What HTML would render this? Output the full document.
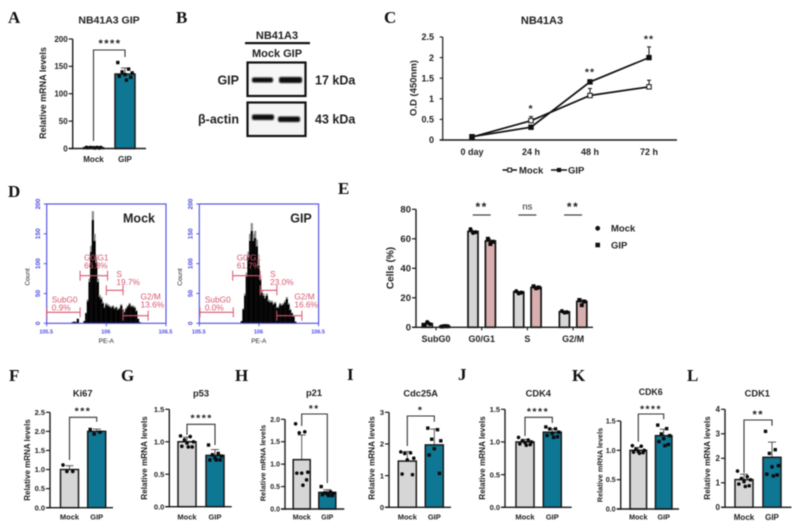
<!DOCTYPE html>
<html lang="en">
<head>
<meta charset="utf-8">
<title>NB41A3 GIP figure</title>
<style>
html,body{margin:0;padding:0;background:#fff;}
#fig{display:block;width:792px;height:528px;filter:blur(0.5px);font-family:"Liberation Sans",sans-serif;}
.let{font-family:"Liberation Serif",serif;font-weight:bold;font-size:17px;fill:#111;}
</style>
</head>
<body>
<svg id="fig" xmlns="http://www.w3.org/2000/svg" width="792" height="528" viewBox="0 0 792 528">
<defs><filter id="soft" x="-20%" y="-100%" width="140%" height="300%"><feGaussianBlur stdDeviation="0.7"/></filter></defs>
<rect width="792" height="528" fill="#fff"/>
<text class="let" x="8" y="23">A</text>
<text class="let" x="176" y="23">B</text>
<text class="let" x="384" y="23">C</text>
<text class="let" x="8" y="197">D</text>
<text class="let" x="338" y="194">E</text>
<text class="let" x="9" y="381">F</text>
<text class="let" x="121" y="381">G</text>
<text class="let" x="235" y="381">H</text>
<text class="let" x="347" y="380">I</text>
<text class="let" x="458" y="380">J</text>
<text class="let" x="572" y="381">K</text>
<text class="let" x="687" y="381">L</text>

<g font-weight="bold" fill="#222">
  <text x="277" y="39" font-size="11" text-anchor="middle">NB41A3</text>
  <rect x="245" y="42" width="65" height="2.2" fill="#111"/>
  <text x="277" y="57" font-size="11" text-anchor="middle">Mock GIP</text>
  <rect x="247.5" y="62.5" width="58" height="33.5" fill="#f7f7f7" stroke="#111" stroke-width="2.2"/>
  <rect x="247.5" y="102.5" width="58" height="33.5" fill="#f4f4f4" stroke="#111" stroke-width="2.2"/>
  <rect x="252" y="77.5" width="21" height="5" rx="2" fill="#111" filter="url(#soft)"/>
  <rect x="279" y="77" width="23" height="6" rx="2" fill="#0a0a0a" filter="url(#soft)"/>
  <rect x="252" y="114.5" width="22" height="5.5" rx="2" fill="#0a0a0a" filter="url(#soft)"/>
  <rect x="278" y="116.5" width="22" height="5.5" rx="2" fill="#0a0a0a" filter="url(#soft)"/>
  <text x="239" y="84.5" font-size="12.5" text-anchor="end">GIP</text>
  <text x="239" y="123.5" font-size="12.5" text-anchor="end">β-actin</text>
  <text x="315" y="84.5" font-size="12.5">17 kDa</text>
  <text x="315" y="123.5" font-size="12.5">43 kDa</text>
</g>
<g id="charts"></g>
</svg>
<script>
/* Panel A */
const aMeans = [1.5, 136];
const aErrors = [0.5, 11];
const aMockPoints = [2, 2, 2, 2, 1.5, 1.5, 1, 1];
const aGipPoints = [157, 145, 140, 138, 135, 132, 130, 125];
const aTicks = ['0', '50', '100', '150', '200'];
/* Panel F Ki67 */
const kiMeans = [1.0, 2.0];
const kiErrors = [0.1, 0.06];
const kiMockPoints = [1.12, 0.95, 0.95];
const kiGipPoints = [2.05, 1.98, 1.93];
const kiTicks = ['0.0', '0.5', '1.0', '1.5', '2.0', '2.5'];
/* Panel G p53 */
const p53Means = [1.0, 0.79];
const p53Errors = [0.07, 0.09];
const p53MockPoints = [1.09, 1.08, 1.03, 1.0, 0.98, 0.93, 0.92, 0.92];
const p53GipPoints = [0.95, 0.82, 0.8, 0.78, 0.75, 0.72, 0.72, 0.72];
const p53Ticks = ['0.0', '0.5', '1.0', '1.5'];
/* Panel H p21 */
const p21Means = [1.1, 0.37];
const p21Errors = [0.55, 0.06];
const p21MockPoints = [1.9, 1.72, 1.7, 0.82, 0.8, 0.8, 0.65, 0.53];
const p21GipPoints = [0.5, 0.38, 0.36, 0.35, 0.34, 0.32, 0.3, 0.3];
const p21Ticks = ['0.0', '0.5', '1.0', '1.5', '2.0'];
/* Panel I Cdc25A */
const cdcMeans = [1.46, 1.97];
const cdcErrors = [0.3, 0.5];
const cdcMockPoints = [1.75, 1.72, 1.7, 1.55, 1.5, 1.05, 1.03];
const cdcGipPoints = [2.5, 2.45, 2.15, 2.1, 1.85, 1.65, 1.07];
const cdcTicks = ['0', '1', '2', '3'];
/* Panel J CDK4 */
const cdk4Means = [1.0, 1.15];
const cdk4Errors = [0.04, 0.05];
const cdk4MockPoints = [1.07, 1.03, 1.02, 1.0, 0.99, 0.97, 0.96, 0.95];
const cdk4GipPoints = [1.23, 1.2, 1.2, 1.15, 1.13, 1.1, 1.08, 1.07];
const cdk4Ticks = ['0.0', '0.5', '1.0', '1.5'];
/* Panel K CDK6 */
const cdk6Means = [1.0, 1.25];
const cdk6Errors = [0.05, 0.11];
const cdk6MockPoints = [1.08, 1.07, 1.02, 1.0, 0.98, 0.97, 0.96, 0.95];
const cdk6GipPoints = [1.43, 1.37, 1.28, 1.25, 1.2, 1.15, 1.1, 1.08];
const cdk6Ticks = ['0.0', '0.5', '1.0', '1.5'];
/* Panel L CDK1 */
const cdk1Means = [1.13, 2.04];
const cdk1Errors = [0.22, 0.62];
const cdk1MockPoints = [1.48, 1.25, 1.18, 1.12, 1.05, 0.95, 0.88, 0.85];
const cdk1GipPoints = [3.1, 2.35, 2.2, 1.7, 1.65, 1.35, 1.32, 1.28];
const cdk1Ticks = ['0', '1', '2', '3', '4'];
/* Panel C growth curve */
const growthCategories = ['0 day', '24 h', '48 h', '72 h'];
const growthMock = [0.07, 0.47, 1.08, 1.29];
const growthGip = [0.08, 0.31, 1.41, 2.0];
const growthMockErr = [0.02, 0.1, 0.17, 0.16];
const growthGipErr = [0.02, 0.05, 0.05, 0.26];
const growthTicks = ['0', '0.5', '1', '1.5', '2', '2.5'];
const growthStars = ['', '*', '**', '**'];
/* Panel D histograms */
const mockHist = [4,18,40,75,130,188,150,110,75,48,44,36,28,34,32,30,28,30,26,28,24,26,32,24,20,26,30,34,30,30,28,22,8,2];
const gipHist = [4,25,50,85,120,150,168,150,155,140,105,80,55,50,45,50,40,38,38,34,36,28,28,34,32,34,38,44,34,24,18,12,3];
const mockBinStart = 5.808;
const gipBinStart = 5.847;
const binWidth = 0.014;
const mockDebris = [2, 3, 2, 8];
const debrisStart = 5.71;
const countTicks = ['0', '50', '100', '150', '200'];
const mockGates = [['SubG0', '0.9%', 5.5, 5.78], ['G0/G1', '66.8%', 5.78, 6.01], ['S', '19.7%', 6.0, 6.14], ['G2/M', '13.6%', 6.14, 6.35]];
const gipGates = [['SubG0', '0.0%', 5.505, 5.785], ['G0/G1', '61.7%', 5.78, 6.01], ['S', '23.0%', 6.01, 6.15], ['G2/M', '16.6%', 6.15, 6.36]];
/* Panel E cell cycle */
const phaseCategories = ['SubG0', 'G0/G1', 'S', 'G2/M'];
const phaseMock = [2.5, 65, 24, 10.5];
const phaseGip = [0.7, 58.5, 27, 17.5];
const phaseMockPoints = [[1.5, 3.5, 2.2], [66.5, 64, 64.5], [24.5, 23, 23.5], [11, 10, 10.2]];
const phaseGipPoints = [[0.5, 0.8, 0.7], [60, 56.5, 58], [27.8, 26.5, 27], [18.5, 15, 17.5]];
const phaseErrors = [[1, 1.2, 0.6, 0.5], [0.3, 1.8, 0.7, 1.9]];
const phaseSig = ['', '**', 'ns', '**'];
const phaseTicks = ['0', '20', '40', '60', '80'];

const NS = 'http://www.w3.org/2000/svg';
const root = document.getElementById('charts');
function add(parent, tag, attrs, text) {
  const el = document.createElementNS(NS, tag);
  for (const k in attrs) el.setAttribute(k, attrs[k]);
  if (text !== undefined) el.textContent = text;
  parent.appendChild(el);
  return el;
}
function txt(parent, x, y, s, size, anchor, extra) {
  const a = Object.assign({x: x, y: y + size * 0.35, 'font-size': size, 'text-anchor': anchor || 'middle', 'font-weight': 'bold', fill: '#222'}, extra || {});
  return add(parent, 'text', a, s);
}
function vtxt(parent, x, y, s, size, extra) {
  const a = Object.assign({transform: 'rotate(-90 ' + x + ' ' + y + ')'}, extra || {});
  return txt(parent, x, y, s, size, 'middle', a);
}
function line(parent, x1, y1, x2, y2, stroke, w) {
  return add(parent, 'line', {x1: x1, y1: y1, x2: x2, y2: y2, stroke: stroke, 'stroke-width': w});
}
function swarmOffset(i, spread) {
  const pattern = [-1, 0.5, -0.4, 1, 0, -0.8, 0.8, 0.2];
  return pattern[i % pattern.length] * spread;
}
function marker(parent, kind, x, y, r, fill, stroke) {
  if (kind === 'circle') return add(parent, 'circle', {cx: x, cy: y, r: r, fill: fill, stroke: stroke || 'none'});
  return add(parent, 'rect', {x: x - r, y: y - r, width: 2 * r, height: 2 * r, fill: fill, stroke: stroke || 'none'});
}

/* Two-bar charts */
const barPanels = [
  {id: 'a', title: 'NB41A3 GIP', means: aMeans, errs: aErrors, mock: aMockPoints, gip: aGipPoints, ticks: aTicks, max: 200,
   ax: 72.7, y0: 148.5, yT: 39, xEnd: 146, cx: [93.5, 125], bw: 20, tx: 109, ty: 20, ts: 10.5,
   brTop: 50, brL: 141, brR: 57, sig: '****', sx: 110, sy: 43, lx: 43, ly: 93, ls: 9, fs: 8, xly: 159},
  {id: 'ki67', title: 'Ki67', means: kiMeans, errs: kiErrors, mock: kiMockPoints, gip: kiGipPoints, ticks: kiTicks, max: 2.5,
   ax: 50, y0: 507.7, yT: 412.3, xEnd: 113, cx: [69.5, 96.7], bw: 18, tx: 82.7, ty: 393, ts: 9.3,
   brTop: 417.3, brL: 460, brR: 421.7, sig: '***', sx: 83, sy: 411, lx: 27, ly: 460, ls: 8, fs: 7.5, xly: 517},
  {id: 'p53', title: 'p53', means: p53Means, errs: p53Errors, mock: p53MockPoints, gip: p53GipPoints, ticks: p53Ticks, max: 1.5,
   ax: 169.3, y0: 506.7, yT: 409.3, xEnd: 231.7, cx: [187, 215], bw: 18, tx: 201, ty: 393, ts: 9.3,
   brTop: 424.3, brL: 435, brR: 445, sig: '****', sx: 201.7, sy: 418, lx: 144.3, ly: 458, ls: 8.2, fs: 7.5, xly: 517},
  {id: 'p21', title: 'p21', means: p21Means, errs: p21Errors, mock: p21MockPoints, gip: p21GipPoints, ticks: p21Ticks, max: 2,
   ax: 285, y0: 509, yT: 419.3, xEnd: 344.3, cx: [301.7, 327.3], bw: 17, tx: 314, ty: 392.5, ts: 9.3,
   brTop: 414, brL: 426, brR: 483, sig: '**', sx: 314.3, sy: 408.5, lx: 262.7, ly: 463, ls: 7.5, fs: 7, xly: 517},
  {id: 'cdc25a', title: 'Cdc25A', means: cdcMeans, errs: cdcErrors, mock: cdcMockPoints, gip: cdcGipPoints, ticks: cdcTicks, max: 3,
   ax: 389, y0: 507.3, yT: 412.3, xEnd: 451, cx: [407.3, 434.3], bw: 18, tx: 420.7, ty: 393, ts: 9.3,
   brTop: 416, brL: 446, brR: 421.7, sig: '*', sx: 420.7, sy: 410, lx: 371.7, ly: 458, ls: 8.2, fs: 7.5, xly: 517},
  {id: 'cdk4', title: 'CDK4', means: cdk4Means, errs: cdk4Errors, mock: cdk4MockPoints, gip: cdk4GipPoints, ticks: cdk4Ticks, max: 1.5,
   ax: 505, y0: 507.3, yT: 409.3, xEnd: 571.7, cx: [525, 552.3], bw: 18, tx: 538.3, ty: 393, ts: 9.3,
   brTop: 417.3, brL: 436, brR: 423, sig: '****', sx: 538, sy: 411.5, lx: 482.3, ly: 458, ls: 8.2, fs: 7.5, xly: 517},
  {id: 'cdk6', title: 'CDK6', means: cdk6Means, errs: cdk6Errors, mock: cdk6MockPoints, gip: cdk6GipPoints, ticks: cdk6Ticks, max: 1.5,
   ax: 620.7, y0: 509, yT: 421, xEnd: 679, cx: [638.3, 663.7], bw: 16.5, tx: 650.7, ty: 392, ts: 8.8,
   brTop: 414, brL: 441.7, brR: 419.3, sig: '****', sx: 651, sy: 409, lx: 600, ly: 465, ls: 7.3, fs: 7.2, xly: 517},
  {id: 'cdk1', title: 'CDK1', means: cdk1Means, errs: cdk1Errors, mock: cdk1MockPoints, gip: cdk1GipPoints, ticks: cdk1Ticks, max: 4,
   ax: 725, y0: 507.3, yT: 409.3, xEnd: 791.5, cx: [744, 772], bw: 18, tx: 757.3, ty: 393, ts: 9.3,
   brTop: 420, brL: 473, brR: 425.7, sig: '**', sx: 758.3, sy: 414, lx: 707.3, ly: 458, ls: 8.2, fs: 8, xly: 517}
];

barPanels.forEach(function (p) {
  const g = add(root, 'g', {});
  
  
  const y = function (v) { return p.y0 - v / p.max * (p.y0 - p.yT); };
  const fills = ['#d6d6d6', '#0e7794'];
  const names = ['Mock', 'GIP'];
  const t = txt(g, p.tx, p.ty, p.title, p.ts);
  
  
  p.means.forEach(function (m, i) {
    const err = line(g, p.cx[i], y(m - p.errs[i]), p.cx[i], y(m + p.errs[i]), '#444', 0.9);
    
    
    const cap = line(g, p.cx[i] - 4, y(m + p.errs[i]), p.cx[i] + 4, y(m + p.errs[i]), '#444', 0.9);
    
    
    const bar = add(g, 'rect', {x: p.cx[i] - p.bw / 2, y: y(m), width: p.bw, height: p.y0 - y(m), fill: fills[i], stroke: '#1a1a1a', 'stroke-width': 1.5});
    
    
    const lab = txt(g, p.cx[i], p.xly, names[i], p.fs);
    
    
  });
  [p.mock, p.gip].forEach(function (pts, s) {
    pts.forEach(function (v, i) {
      const mk = marker(g, s === 0 ? 'circle' : 'square', p.cx[s] + swarmOffset(i, p.bw * 0.36), y(v), s === 0 ? 1.8 : 1.7, '#0a0a0a');
      
      
    });
  });
  const yAxis = line(g, p.ax, p.yT, p.ax, p.y0 + 0.6, '#1a1a1a', 1.4);
  
  
  const xAxis = line(g, p.ax - 4, p.y0, p.xEnd, p.y0, '#1a1a1a', 1.4);
  
  
  p.ticks.forEach(function (s) {
    const yy = y(parseFloat(s));
    const tk = line(g, p.ax - 4, yy, p.ax, yy, '#1a1a1a', 1.2);
    
    
    const tl = txt(g, p.ax - 5, yy, s, p.fs, 'end');
    
    
  });
  const yl = vtxt(g, p.lx, p.ly, 'Relative mRNA levels', p.ls);
  
  
  const br = add(g, 'polyline', {points: p.cx[0] + ',' + p.brL + ' ' + p.cx[0] + ',' + p.brTop + ' ' + p.cx[1] + ',' + p.brTop + ' ' + p.cx[1] + ',' + p.brR, fill: 'none', stroke: '#333', 'stroke-width': 1.1});
  
  
  const st = txt(g, p.sx, p.sy, p.sig, p.fs + 3, 'middle', {'letter-spacing': 1.5});
  
  
});

/* Panel C */
(function () {
  const g = add(root, 'g', {});
  
  
  const ax = 442.7, y0 = 140, yT = 37, cxStart = 472, cxStep = 59;
  const y = function (v) { return y0 - v / 2.5 * (y0 - yT); };
  const x = function (i) { return cxStart + i * cxStep; };
  const title = txt(g, 542, 20, 'NB41A3', 11);
  
  
  const yAxis = line(g, ax, yT, ax, y0, '#1a1a1a', 1.2);
  
  
  const xAxis = line(g, ax - 3, y0, 677, y0, '#1a1a1a', 1.5);
  
  
  growthTicks.forEach(function (s) {
    const yy = y(parseFloat(s));
    const tk = line(g, ax - 3, yy, ax, yy, '#1a1a1a', 1.1);
    
    
    const tl = txt(g, 434, yy, s, 9, 'end');
    
    
  });
  growthCategories.forEach(function (c, i) {
    const tl = txt(g, x(i), 152, c, 9);
    
    
    if (growthStars[i]) {
      const s = txt(g, x(i), y(Math.max(growthMock[i] + growthMockErr[i], growthGip[i] + growthGipErr[i])) - 8, growthStars[i], 10.5, 'middle', {'letter-spacing': 1});
      
      
    }
  });
  const yl = vtxt(g, 413, 88, 'O.D (450nm)', 9.5);
  
  
  [[growthMock, growthMockErr, '#fff', 'mock'], [growthGip, growthGipErr, '#111', 'gip']].forEach(function (s) {
    s[0].forEach(function (v, i) {
      const er = line(g, x(i), y(v), x(i), y(v + s[1][i]), '#222', 1.1);
      
      
      const cap = line(g, x(i) - 2, y(v + s[1][i]), x(i) + 2, y(v + s[1][i]), '#222', 1.1);
      
      
    });
    const pl = add(g, 'polyline', {points: s[0].map(function (v, i) { return x(i) + ',' + y(v); }).join(' '), fill: 'none', stroke: '#111', 'stroke-width': 1.7});
    
    
    s[0].forEach(function (v, i) {
      const mk = marker(g, 'square', x(i), y(v), 2.2, s[2], '#111');
      
      
    });
  });
  const ll1 = line(g, 502.5, 170, 517, 170, '#111', 1.5);
  
  
  const lm1 = marker(g, 'square', 509.7, 170, 1.9, '#fff', '#111');
  
  
  const lt1 = txt(g, 519, 170, 'Mock', 9.5, 'start');
  
  
  const ll2 = line(g, 551, 170, 567, 170, '#111', 1.5);
  
  
  const lm2 = marker(g, 'square', 559, 170, 2.1, '#111');
  
  
  const lt2 = txt(g, 568, 170, 'GIP', 9.5, 'start');
  
  
})();

/* Panel D */
function flowPlot(id, left, label, labelX, hist, binStart, gates, debris) {
  const g = add(root, 'g', {});
  
  
  const right = left + 119.3, top = 204, bottom = 323.3;
  const blue = '#4a4ae0', red = '#d8566f';
  const x = function (v) { return left + (v - 5.5) * (right - left); };
  const y = function (c) { return bottom - c / 200 * (bottom - top); };
  const drawBins = function (values, start) {
    values.forEach(function (c, i) {
      const xx = x(start + i * binWidth), w = binWidth * (right - left) + 0.5;
      const grey = add(g, 'rect', {x: xx, y: y(c), width: w, height: bottom - y(c), fill: '#8a8a8a'});
      
      
      const black = add(g, 'rect', {x: xx, y: y(c * 0.92), width: w, height: bottom - y(c * 0.92), fill: '#000'});
      
      
    });
  };
  if (debris) drawBins(debris, debrisStart);
  drawBins(hist, binStart);
  const box = add(g, 'rect', {x: left, y: top, width: right - left, height: bottom - top, fill: 'none', stroke: blue, 'stroke-width': 1.1});
  
  
  countTicks.forEach(function (s) {
    const yy = y(parseFloat(s));
    const tk = line(g, left - 3, yy, left, yy, blue, 0.9);
    
    
    const tl = vtxt(g, left - 9, yy, s, 6.5, {fill: blue});
    
    
  });
  [['5.5', 5.5], ['6', 6], ['6.5', 6.5]].forEach(function (s) {
    const tk = line(g, x(s[1]), bottom, x(s[1]), bottom + 3, blue, 0.9);
    
    
    const tl = txt(g, x(s[1]) - 0.5, bottom + 8.5, '10' + s[0], 5.5, 'middle', {fill: blue});
    
    
  });
  const xl = txt(g, left + 59.5, 340.7, 'PE-A', 6.5, 'middle', {'font-weight': 'normal', fill: '#222'});
  
  
  const yl = vtxt(g, left - 19.5, 277, 'Count', 6.5, {'font-weight': 'normal', fill: '#222'});
  
  
  const gateY = [312.3, 275.7, 290.3, 315.7];
  const nameDy = [299.5, 257.5, 274, 296.5];
  gates.forEach(function (gt, i) {
    const a = x(gt[2]), b = x(gt[3]);
    const gl = line(g, a, gateY[i], b, gateY[i], red, 1.1);
    
    
    const c1 = line(g, a, gateY[i] - 5, a, gateY[i] + 5, red, 1);
    
    
    const c2 = line(g, b, gateY[i] - 5, b, gateY[i] + 5, red, 1);
    
    
    const lx = i === 0 ? a + 5 : i === 1 ? a + 4 : i === 2 ? a + 10 : a + 17.5;
    const n = txt(g, lx, nameDy[i], gt[0], 8.3, 'start', {'font-weight': 'normal', fill: red});
    
    
    const v = txt(g, lx, nameDy[i] + 8, gt[1], 8.3, 'start', {'font-weight': 'normal', fill: red});
    
    
  });
  const lb = txt(g, labelX, 218, label, 12.5);
  
  
}
flowPlot('mock', 46.7, 'Mock', 139, mockHist, mockBinStart, mockGates, mockDebris);
flowPlot('gip', 199.3, 'GIP', 301, gipHist, gipBinStart, gipGates, null);

/* Panel E */
(function () {
  const g = add(root, 'g', {});
  
  
  const ax = 416, y0 = 327.3, yT = 209.3, bw = 10;
  const y = function (v) { return y0 - v / 80 * (y0 - yT); };
  const catX = function (i) { return 436 + i * 45.7; };
  const fills = ['#d6d6d6', '#d9aeae'];
  [phaseMock, phaseGip].forEach(function (vals, s) {
    const pts = s === 0 ? phaseMockPoints : phaseGipPoints;
    vals.forEach(function (v, i) {
      const cx = catX(i) + (s === 0 ? -8.7 : 8.7);
      const er = line(g, cx, y(v), cx, y(v + phaseErrors[s][i]), '#444', 0.9);
      
      
      const bar = add(g, 'rect', {x: cx - bw / 2, y: y(v), width: bw, height: y0 - y(v), fill: fills[s], stroke: '#111', 'stroke-width': 1.7});
      
      
      pts[i].forEach(function (p, j) {
        const mk = marker(g, s === 0 ? 'circle' : 'square', cx + [-2.5, 0, 2.5][j], y(p), s === 0 ? 2.1 : 2, '#0a0a0a');
        
        
      });
    });
  });
  const yAxis = line(g, ax, yT, ax, y0, '#1a1a1a', 1.4);
  
  
  const xAxis = line(g, ax - 4, y0, 593, y0, '#1a1a1a', 1.4);
  
  
  phaseTicks.forEach(function (s) {
    const yy = y(parseFloat(s));
    const tk = line(g, ax - 4, yy, ax, yy, '#1a1a1a', 1.2);
    
    
    const tl = txt(g, ax - 5, yy, s, 9.5, 'end');
    
    
  });
  phaseCategories.forEach(function (c, i) {
    const tk = line(g, catX(i), y0, catX(i), y0 + 3, '#1a1a1a', 1.2);
    
    
    const tl = txt(g, catX(i), 339, c, 9);
    
    
    if (phaseSig[i]) {
      const sl = line(g, catX(i) - 9, 215, catX(i) + 9, 215, '#444', 1.2);
      
      
      const st = phaseSig[i] === 'ns'
        ? txt(g, catX(i), 206, 'ns', 9.5, 'middle', {'font-weight': 'normal'})
        : txt(g, catX(i), 207, phaseSig[i], 12, 'middle', {'letter-spacing': 1.5});
      
      
    }
  });
  const yl = vtxt(g, 390, 268, 'Cells (%)', 10);
  
  
  const m1 = marker(g, 'circle', 597.7, 228.3, 2.4, '#111');
  
  
  const t1 = txt(g, 611, 228.3, 'Mock', 9.5, 'start');
  
  
  const m2 = marker(g, 'square', 597.7, 245, 2.3, '#111');
  
  
  const t2 = txt(g, 611, 245, 'GIP', 9.5, 'start');
  
  
})();
</script>
</body>
</html>
